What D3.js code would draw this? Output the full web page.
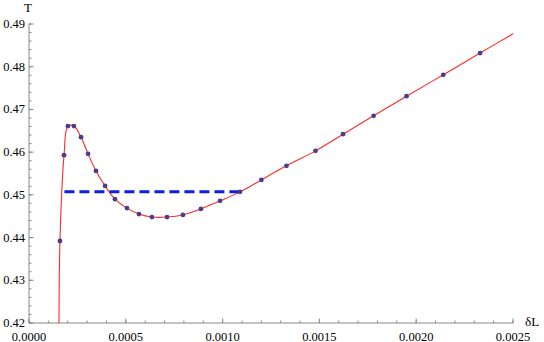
<!DOCTYPE html>
<html>
<head>
<meta charset="utf-8">
<script src="https://cdn.jsdelivr.net/npm/d3@7"></script>
<style>
  body { margin: 0; background: #fff; }
</style>
</head>
<body>
<div id="chart"></div>
<script>
const width = 544;
const height = 342;

// sampled points (δL, T)
const deltaL = [0.000160, 0.000181, 0.000201, 0.000232, 0.000269, 0.000305, 0.000346, 0.000393,
    0.000444, 0.000506, 0.000568, 0.000635, 0.000713, 0.000795, 0.000888, 0.000987, 0.00109,
    0.00120, 0.00133, 0.00148, 0.001622, 0.00178, 0.00195, 0.00214, 0.00233];
const temps = [0.4392, 0.4593, 0.4661, 0.4661, 0.4635, 0.4596, 0.4556, 0.4521,
    0.4490, 0.4469, 0.4455, 0.4448, 0.4448, 0.4453, 0.4467, 0.4486, 0.4507,
    0.4535, 0.4568, 0.4603, 0.4642, 0.4685, 0.4731, 0.4781, 0.4832];

// extra ends of the fitted curve
const curveStart = { x: 0.000155, y: 0.42 };
const curveEnd = { x: 0.0025, y: 0.4877 };

// Maxwell construction line
const maxwellT = 0.4507;
const maxwellRange = [0.000183, 0.00109];

const xTicks = [0, 0.0005, 0.0010, 0.0015, 0.0020, 0.0025];
const yTicks = [0.42, 0.43, 0.44, 0.45, 0.46, 0.47, 0.48, 0.49];

const margin = { left: 29, right: 31, top: 24, bottom: 19 };
const serif = "'Liberation Serif', 'Times New Roman', Times, 'DejaVu Serif', serif";

const svg = d3.select("#chart").append("svg")
    .attr("width", width)
    .attr("height", height)
    .attr("font-family", serif)
    .attr("font-size", 12.5);

const x = d3.scaleLinear()
    .domain([0, 0.0025])
    .range([margin.left, width - margin.right]);

const y = d3.scaleLinear()
    .domain([0.42, 0.49])
    .range([height - margin.bottom, margin.top]);

const points = deltaL.map((d, i) => ({ x: d, y: temps[i] }));
const curvePts = [curveStart, ...points, curveEnd];

svg.append("defs").append("clipPath")
    .attr("id", "clip")
    .append("rect")
    .attr("x", margin.left)
    .attr("y", margin.top - 5)
    .attr("width", x.range()[1] - margin.left + 2)
    .attr("height", y.range()[0] - margin.top + 5);

// axes
const axisColor = "#888";
const xMinor = d3.range(0, 0.00251, 0.0001);
const yMinor = d3.range(0.42, 0.4901, 0.002);

const xAxis = svg.append("g").attr("class", "x-axis");
xAxis.append("line")
    .attr("x1", x(0)).attr("x2", x(0.0025))
    .attr("y1", y(0.42)).attr("y2", y(0.42))
    .attr("stroke", axisColor);
xAxis.selectAll(".minor")
    .data(xMinor)
    .join("line")
    .attr("x1", d => x(d)).attr("x2", d => x(d))
    .attr("y1", y(0.42)).attr("y2", y(0.42) - 2.5)
    .attr("stroke", axisColor);
xAxis.selectAll(".major")
    .data(xTicks)
    .join("line")
    .attr("x1", d => x(d)).attr("x2", d => x(d))
    .attr("y1", y(0.42)).attr("y2", y(0.42) - 4.5)
    .attr("stroke", axisColor);
xAxis.selectAll("text")
    .data(xTicks)
    .join("text")
    .attr("x", d => x(d))
    .attr("y", y(0.42) + 17.5)
    .attr("text-anchor", "middle")
    .style("font-family", serif)
    .text(d => d3.format(".4f")(d));

const yAxis = svg.append("g").attr("class", "y-axis");
yAxis.append("line")
    .attr("x1", x(0)).attr("x2", x(0))
    .attr("y1", y(0.42)).attr("y2", y(0.49))
    .attr("stroke", axisColor);
yAxis.selectAll(".minor")
    .data(yMinor)
    .join("line")
    .attr("x1", x(0)).attr("x2", x(0) + 2.5)
    .attr("y1", d => y(d)).attr("y2", d => y(d))
    .attr("stroke", axisColor);
yAxis.selectAll(".major")
    .data(yTicks)
    .join("line")
    .attr("x1", x(0)).attr("x2", x(0) + 4.5)
    .attr("y1", d => y(d)).attr("y2", d => y(d))
    .attr("stroke", axisColor);
yAxis.selectAll("text")
    .data(yTicks)
    .join("text")
    .attr("x", x(0) - 4)
    .attr("y", d => y(d) + 4)
    .attr("text-anchor", "end")
    .style("font-family", serif)
    .text(d => d3.format(".2f")(d));

// axis titles
svg.append("text")
    .attr("x", x(0) - 1)
    .attr("y", 12)
    .attr("text-anchor", "middle")
    .style("font-family", serif)
    .style("font-size", "13px")
    .text("T");

svg.append("text")
    .attr("x", x(0.0025) + 12)
    .attr("y", y(0.42) + 3)
    .style("font-family", serif)
    .style("font-size", "13px")
    .text("δL");

// curve
const line = d3.line()
    .x(d => x(d.x))
    .y(d => y(d.y))
    .curve(d3.curveCatmullRom.alpha(0.5));

svg.append("path")
    .datum(curvePts)
    .attr("clip-path", "url(#clip)")
    .attr("fill", "none")
    .attr("stroke", "#ff2a2a")
    .attr("stroke-width", 1.1)
    .attr("d", line);

// dashed Maxwell line
svg.append("line")
    .attr("x1", x(maxwellRange[0])).attr("x2", x(maxwellRange[1]))
    .attr("y1", y(maxwellT)).attr("y2", y(maxwellT))
    .attr("stroke", "#0a1ee6")
    .attr("stroke-width", 3)
    .attr("stroke-dasharray", "10,5");

// points
svg.selectAll(".pt")
    .data(points)
    .join("circle")
    .attr("class", "pt")
    .attr("cx", d => x(d.x))
    .attr("cy", d => y(d.y))
    .attr("r", 2.4)
    .attr("fill", "#4a3c8c");
</script>
</body>
</html>
